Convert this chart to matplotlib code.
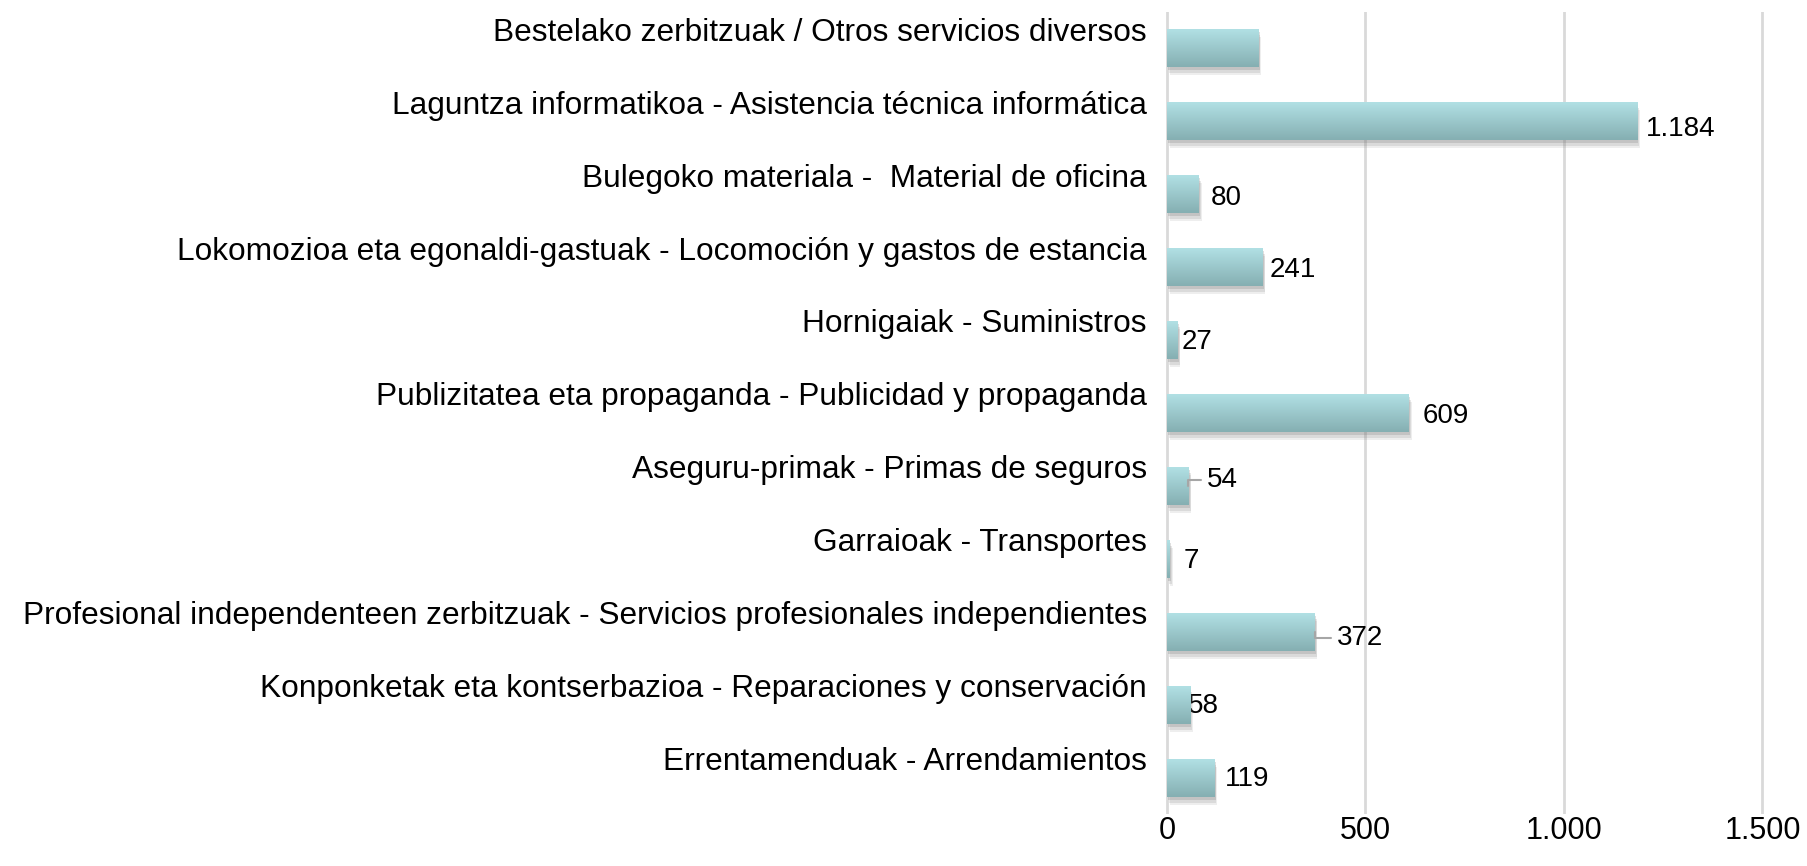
import numpy as np
import matplotlib
matplotlib.use("Agg")
import matplotlib.pyplot as plt
import matplotlib.patheffects as pe
from matplotlib.transforms import ScaledTranslation

plt.rcParams["font.family"] = ["Liberation Sans", "DejaVu Sans"]

# categories, top to bottom as in the chart
categories = [
    "Bestelako zerbitzuak / Otros servicios diversos",
    "Laguntza informatikoa - Asistencia técnica informática",
    "Bulegoko materiala -  Material de oficina",
    "Lokomozioa eta egonaldi-gastuak - Locomoción y gastos de estancia",
    "Hornigaiak - Suministros",
    "Publizitatea eta propaganda - Publicidad y propaganda",
    "Aseguru-primak - Primas de seguros",
    "Garraioak - Transportes",
    "Profesional independenteen zerbitzuak - Servicios profesionales independientes",
    "Konponketak eta kontserbazioa - Reparaciones y conservación",
    "Errentamenduak - Arrendamientos",
]
values = [230, 1184, 80, 241, 27, 609, 54, 7, 372, 58, 119]
value_labels = ["", "1.184", "80", "241", "27", "609", "54", "7", "372", "58", "119"]
xticks = [0, 500, 1000, 1500]
xtick_labels = ["0", "500", "1.000", "1.500"]

# label nudges in points (dx, dy) and whether a leader line is drawn
label_dx = [0, 6.5, 9, 5, 3, 10, 13, 10, 16, -1.5, 8]
label_dy = [0, -6, -3, -2, -1.5, -2.5, 4, -1.5, -4, -1, -1]
leader = [False, False, False, False, False, False, True, False, True, False, False]

top_col = np.array([177, 224, 228]) / 255
bot_col = np.array([133, 175, 178]) / 255

fig = plt.figure(figsize=(18.07, 8.66), dpi=100)
ax = fig.add_axes([1165 / 1807, 0.05947, (1770.4 - 1165) / 1807, 0.98672 - 0.05947])

n = len(categories)
ypos = np.arange(n)[::-1]
bar_h = 0.52

grad = np.linspace(0, 1, 64)[:, None]
cmap = matplotlib.colors.LinearSegmentedColormap.from_list("g", [top_col, bot_col])

shadow = [
    pe.SimplePatchShadow(offset=(2, -5.5), shadow_rgbFace="#7a7a7a", alpha=0.12),
    pe.SimplePatchShadow(offset=(1.5, -4), shadow_rgbFace="#7a7a7a", alpha=0.17),
    pe.SimplePatchShadow(offset=(1, -2.5), shadow_rgbFace="#7a7a7a", alpha=0.24),
    pe.Normal(),
]

bars = ax.barh(ypos, values, height=bar_h, color=bot_col, zorder=3)
for b, v, y in zip(bars, values, ypos):
    b.set_path_effects(shadow)
    im = ax.imshow(grad, cmap=cmap, aspect="auto", origin="upper",
                   extent=(0, v, y - bar_h / 2, y + bar_h / 2), zorder=4)
    im.set_clip_path(b)

ax.set_aspect("auto")
ax.set_xlim(-5, 1520)
ax.set_ylim(-0.5, n - 0.5)

# data labels
for i, (v, y, lab) in enumerate(zip(values, ypos, value_labels)):
    if not lab:
        continue
    z = 5 if i != 9 else 2
    arrow = None
    if leader[i]:
        arrow = dict(arrowstyle="-", color="#a6a6a6", lw=1.5, shrinkA=2, shrinkB=0,
                     connectionstyle="angle,angleA=0,angleB=90,rad=0")
    ax.annotate(lab, xy=(v, y), xytext=(label_dx[i], label_dy[i]),
                textcoords="offset points", ha="left", va="center",
                fontsize=20, zorder=z, arrowprops=arrow)

ax.set_xticks(xticks)
ax.set_xticklabels(xtick_labels, fontsize=22)
ax.set_yticks(ypos)
ax.set_yticklabels(categories, fontsize=22.8)

ax.tick_params(axis="both", length=0)
ax.tick_params(axis="x", pad=1)
ax.tick_params(axis="y", pad=13)
off = ScaledTranslation(0, 0.19, fig.dpi_scale_trans)
for t in ax.get_yticklabels():
    t.set_transform(t.get_transform() + off)

ax.grid(axis="x", color="#d9d9d9", lw=2, zorder=0)
for s in ax.spines.values():
    s.set_visible(False)
ax.set_axisbelow(True)

fig.savefig("out.png", dpi=100)
